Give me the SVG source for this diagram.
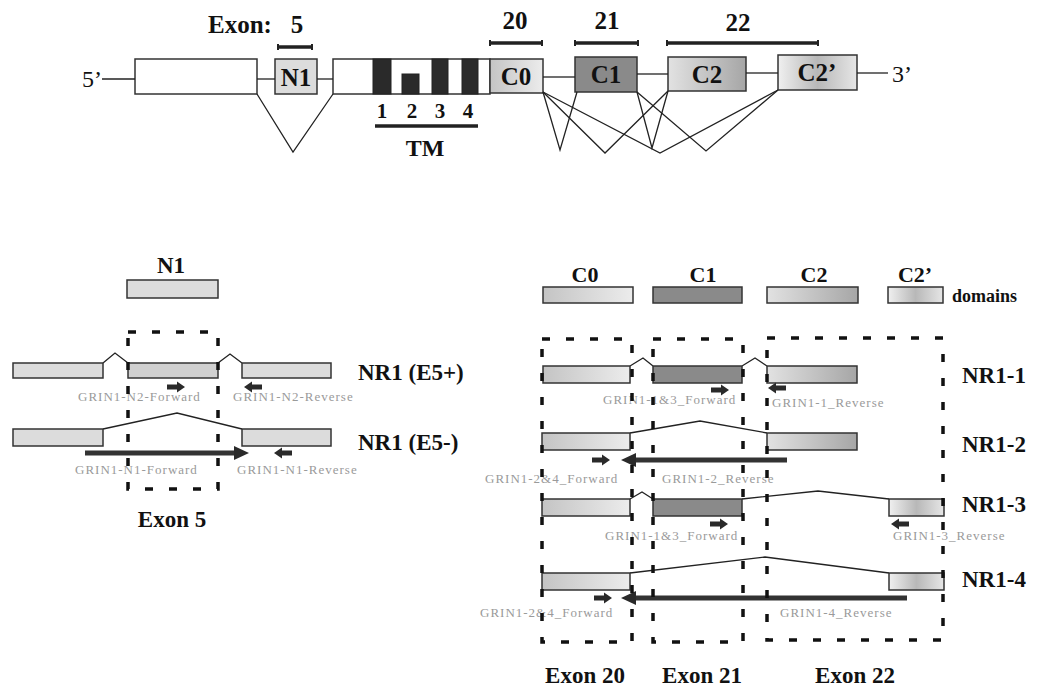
<svg xmlns="http://www.w3.org/2000/svg" width="1039" height="690" viewBox="0 0 1039 690">
<defs>
<linearGradient id="gC0" x1="0" y1="0" x2="1" y2="0"><stop offset="0" stop-color="#c4c4c4"/><stop offset="1" stop-color="#ececec"/></linearGradient>
<linearGradient id="gC2" x1="0" y1="0" x2="1" y2="0"><stop offset="0" stop-color="#e2e2e2"/><stop offset="1" stop-color="#a6a6a6"/></linearGradient>
<linearGradient id="gC2p" x1="0" y1="0" x2="1" y2="0"><stop offset="0" stop-color="#f0f0f0"/><stop offset="0.5" stop-color="#b8b8b8"/><stop offset="1" stop-color="#e6e6e6"/></linearGradient>
<path id="fwd" d="M0,-2.5 H10 V-5.5 L18,0 L10,5.5 V2.5 H0 Z"/>
<path id="rev" d="M0,-2.5 H-10 V-5.5 L-18,0 L-10,5.5 V2.5 H0 Z"/>
<path id="headRt" d="M-15,-7 L0,0 L-15,7 Z"/>
<path id="headLt" d="M15,-7 L0,0 L15,7 Z"/>
</defs>
<style>
.t{font-family:"Liberation Serif",serif;font-weight:bold;fill:#111}
.n{font-family:"Liberation Serif",serif;fill:#111}
.p{font-family:"Liberation Serif",serif;font-size:13px;fill:#9a9a9a;letter-spacing:1px}
.box{stroke:#333;stroke-width:1.5}
.w{fill:#fff}
.lt{fill:#dcdcdc}
.md{fill:#d0d0d0}
.dk{fill:#8a8a8a}
.tm{fill:#2a2a2a;stroke:#222;stroke-width:1}
.ln{fill:none;stroke:#222;stroke-width:1.3}
.bar{stroke:#222;stroke-width:3.5}
.tick{stroke:#222;stroke-width:2}
.dash{fill:none;stroke:#111;stroke-width:3.5;stroke-dasharray:8 16}
.arr{fill:#2a2a2a}
.long{stroke:#333;stroke-width:5}
</style>

<!-- Top gene structure -->
<g id="gene">
  <text class="n" x="82" y="87" font-size="24">5’</text>
  <text class="n" x="892" y="82" font-size="24">3’</text>
  <rect id="exonA" class="box w" x="135" y="59" width="122" height="35"/>
  <g id="exN1"><rect class="box lt" x="275" y="59" width="42" height="35"/><text class="t" x="296" y="86" font-size="25" text-anchor="middle">N1</text></g>
  <g id="exTM">
    <rect class="box w" x="333" y="59" width="157" height="35"/>
    <rect class="tm" x="373" y="59" width="18" height="35"/>
    <rect class="tm" x="402" y="74" width="17" height="20"/>
    <rect class="tm" x="432" y="59" width="16" height="35"/>
    <rect class="tm" x="462" y="59" width="16" height="35"/>
    <text class="t" x="382" y="118" font-size="21" text-anchor="middle">1</text>
    <text class="t" x="412" y="118" font-size="21" text-anchor="middle">2</text>
    <text class="t" x="440" y="118" font-size="21" text-anchor="middle">3</text>
    <text class="t" x="468" y="118" font-size="21" text-anchor="middle">4</text>
    <line class="bar" x1="375" y1="126" x2="478" y2="126"/>
    <text class="t" x="425" y="156" font-size="24" text-anchor="middle">TM</text>
  </g>
  <g id="exC0"><rect class="box" fill="url(#gC0)" x="490" y="59" width="53" height="34"/><text class="t" x="516" y="85" font-size="25" text-anchor="middle">C0</text></g>
  <g id="exC1"><rect class="box dk" x="575" y="57" width="62" height="35"/><text class="t" x="606" y="83" font-size="25" text-anchor="middle">C1</text></g>
  <g id="exC2"><rect class="box" fill="url(#gC2)" x="668" y="57" width="78" height="34"/><text class="t" x="707" y="83" font-size="25" text-anchor="middle">C2</text></g>
  <g id="exC2p"><rect class="box" fill="url(#gC2p)" x="778" y="55" width="79" height="35"/><text class="t" x="817" y="81" font-size="25" text-anchor="middle">C2’</text></g>
  <g id="exonLabels">
    <text class="t" x="208" y="33" font-size="25">Exon:</text>
    <text class="t" x="297" y="33" font-size="25" text-anchor="middle">5</text>
    <line class="bar" x1="278" y1="47" x2="312" y2="47"/><line class="tick" x1="278" y1="44" x2="278" y2="50"/><line class="tick" x1="312" y1="44" x2="312" y2="50"/>
    <text class="t" x="515" y="29" font-size="25" text-anchor="middle">20</text>
    <line class="bar" x1="490" y1="43" x2="542" y2="43"/><line class="tick" x1="490" y1="40" x2="490" y2="46"/><line class="tick" x1="542" y1="40" x2="542" y2="46"/>
    <text class="t" x="607" y="29" font-size="25" text-anchor="middle">21</text>
    <line class="bar" x1="575" y1="43" x2="638" y2="43"/><line class="tick" x1="575" y1="40" x2="575" y2="46"/><line class="tick" x1="638" y1="40" x2="638" y2="46"/>
    <text class="t" x="738" y="31" font-size="25" text-anchor="middle">22</text>
    <line class="bar" x1="667" y1="43" x2="818" y2="43"/><line class="tick" x1="667" y1="40" x2="667" y2="46"/><line class="tick" x1="818" y1="40" x2="818" y2="46"/>
  </g>
</g>

<g id="connectors">
  <line class="ln" x1="102" y1="79" x2="135" y2="79"/>
  <line class="ln" x1="257" y1="79" x2="275" y2="79"/>
  <line class="ln" x1="317" y1="79" x2="333" y2="79"/>
  <line class="ln" x1="543" y1="77" x2="575" y2="77"/>
  <line class="ln" x1="637" y1="74" x2="668" y2="74"/>
  <line class="ln" x1="746" y1="73" x2="778" y2="73"/>
  <line class="ln" x1="857" y1="73" x2="888" y2="73"/>
  <polyline class="ln" points="257,94 293,152 333,94"/>
  <polyline class="ln" points="543,92 560,150 577,92"/>
  <polyline class="ln" points="543,92 605,153 668,91"/>
  <polyline class="ln" points="543,92 660,153 778,90"/>
  <polyline class="ln" points="637,92 652,148 668,91"/>
  <polyline class="ln" points="637,92 706,151 778,90"/>
  <!-- left panel splice lines -->
  <polyline class="ln" points="103,363 115,353 128,363"/>
  <polyline class="ln" points="218,363 230,354 242,363"/>
  <polyline class="ln" points="103,429 177,413 242,429"/>
  <!-- right panel splice lines -->
  <polyline class="ln" points="630,366 643,358 653,366"/>
  <polyline class="ln" points="742,366 755,358 767,366"/>
  <polyline class="ln" points="630,433 700,421 767,433"/>
  <polyline class="ln" points="630,499 642,492 653,499"/>
  <polyline class="ln" points="742,499 818,491 889,499"/>
  <polyline class="ln" points="630,573 765,557 889,573"/>
</g>

<!-- Left panel -->
<g id="leftDomain">
  <text class="t" x="171" y="273" font-size="23" text-anchor="middle">N1</text>
  <rect class="box lt" x="127" y="280" width="91" height="18"/>
</g>
<g id="rowE5plus">
  <rect class="box lt" x="13" y="363" width="90" height="15"/>
  <rect class="box md" x="128" y="363" width="90" height="15"/>
  <rect class="box lt" x="242" y="363" width="89" height="15"/>
  <use href="#fwd" class="arr" x="167" y="387"/>
  <use href="#rev" class="arr" x="262" y="387"/>
  <text class="p" x="78" y="401">GRIN1-N2-Forward</text>
  <text class="p" x="233" y="401">GRIN1-N2-Reverse</text>
  <text class="t" x="358" y="380" font-size="23">NR1 (E5+)</text>
</g>
<g id="rowE5minus">
  <rect class="box lt" x="13" y="429" width="90" height="17"/>
  <rect class="box lt" x="242" y="429" width="89" height="17"/>
  <line class="long" x1="85" y1="453" x2="236" y2="453"/>
  <use href="#headRt" class="arr" x="249" y="453"/>
  <use href="#rev" class="arr" x="292" y="453"/>
  <text class="p" x="75" y="474">GRIN1-N1-Forward</text>
  <text class="p" x="237" y="474">GRIN1-N1-Reverse</text>
  <text class="t" x="358" y="450" font-size="23">NR1 (E5-)</text>
</g>
<g id="exon5Box">
  <rect class="dash" x="128" y="332" width="90" height="157"/>
  <text class="t" x="172" y="527" font-size="23" text-anchor="middle">Exon 5</text>
</g>

<!-- Right panel -->
<g id="rightDomains">
  <text class="t" x="585" y="282" font-size="22" text-anchor="middle">C0</text>
  <text class="t" x="703" y="282" font-size="22" text-anchor="middle">C1</text>
  <text class="t" x="814" y="282" font-size="22" text-anchor="middle">C2</text>
  <text class="t" x="915" y="282" font-size="22" text-anchor="middle">C2’</text>
  <rect class="box" fill="url(#gC0)" x="543" y="287" width="90" height="16"/>
  <rect class="box dk" x="653" y="287" width="89" height="16"/>
  <rect class="box" fill="url(#gC2)" x="767" y="287" width="91" height="16"/>
  <rect class="box" fill="url(#gC2p)" x="888" y="287" width="55" height="16"/>
  <text class="t" x="952" y="302" font-size="18">domains</text>
</g>
<g id="rowNR1-1">
  <rect class="box" fill="url(#gC0)" x="543" y="366" width="87" height="17"/>
  <rect class="box dk" x="653" y="366" width="89" height="17"/>
  <rect class="box" fill="url(#gC2)" x="767" y="366" width="90" height="17"/>
  <use href="#fwd" class="arr" x="711" y="390"/>
  <use href="#rev" class="arr" x="786" y="388"/>
  <text class="p" x="603" y="404">GRIN1-1&amp;3_Forward</text>
  <text class="p" x="772" y="407">GRIN1-1_Reverse</text>
  <text class="t" x="962" y="383" font-size="23">NR1-1</text>
</g>
<g id="rowNR1-2">
  <rect class="box" fill="url(#gC0)" x="542" y="433" width="88" height="17"/>
  <rect class="box" fill="url(#gC2)" x="767" y="433" width="90" height="17"/>
  <use href="#fwd" class="arr" x="592" y="460"/>
  <line class="long" x1="787" y1="460" x2="634" y2="460"/>
  <use href="#headLt" class="arr" x="621" y="460"/>
  <text class="p" x="485" y="483">GRIN1-2&amp;4_Forward</text>
  <text class="p" x="662" y="483">GRIN1-2_Reverse</text>
  <text class="t" x="962" y="452" font-size="23">NR1-2</text>
</g>
<g id="rowNR1-3">
  <rect class="box" fill="url(#gC0)" x="542" y="499" width="88" height="17"/>
  <rect class="box dk" x="653" y="499" width="89" height="17"/>
  <rect class="box" fill="url(#gC2p)" x="889" y="499" width="55" height="17"/>
  <use href="#fwd" class="arr" x="710" y="524"/>
  <use href="#rev" class="arr" x="909" y="524"/>
  <text class="p" x="605" y="540">GRIN1-1&amp;3_Forward</text>
  <text class="p" x="893" y="540">GRIN1-3_Reverse</text>
  <text class="t" x="962" y="512" font-size="23">NR1-3</text>
</g>
<g id="rowNR1-4">
  <rect class="box" fill="url(#gC0)" x="542" y="573" width="88" height="17"/>
  <rect class="box" fill="url(#gC2p)" x="889" y="573" width="55" height="17"/>
  <use href="#fwd" class="arr" x="594" y="598"/>
  <line class="long" x1="907" y1="598" x2="634" y2="598"/>
  <use href="#headLt" class="arr" x="621" y="598"/>
  <text class="p" x="480" y="617">GRIN1-2&amp;4_Forward</text>
  <text class="p" x="780" y="617">GRIN1-4_Reverse</text>
  <text class="t" x="962" y="587" font-size="23">NR1-4</text>
</g>
<g id="exon20Box">
  <rect class="dash" x="542" y="339" width="90" height="303"/>
  <text class="t" x="585" y="683" font-size="23" text-anchor="middle">Exon 20</text>
</g>
<g id="exon21Box">
  <rect class="dash" x="653" y="339" width="90" height="303"/>
  <text class="t" x="702" y="683" font-size="23" text-anchor="middle">Exon 21</text>
</g>
<g id="exon22Box">
  <rect class="dash" x="767" y="338" width="176" height="302"/>
  <text class="t" x="855" y="683" font-size="23" text-anchor="middle">Exon 22</text>
</g>
</svg>
